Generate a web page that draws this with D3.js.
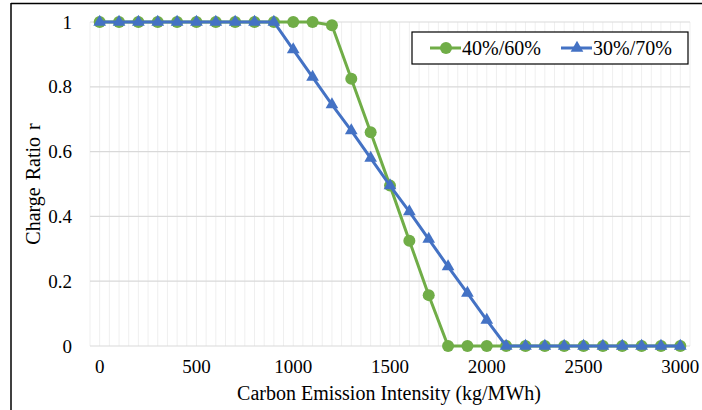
<!DOCTYPE html>
<html>
<head>
<meta charset="utf-8">
<script src="https://cdn.jsdelivr.net/npm/d3@7"></script>
<style>
body { margin: 0; background: #fff; }
text { font-family: "Liberation Serif", "Times New Roman", serif; fill: #000; }
</style>
</head>
<body>
<svg width="702" height="410"></svg>
<script>
var intensity = [0, 100, 200, 300, 400, 500, 600, 700, 800, 900, 1000, 1100, 1200, 1300, 1400, 1500,
  1600, 1700, 1800, 1900, 2000, 2100, 2200, 2300, 2400, 2500, 2600, 2700, 2800, 2900, 3000];
var green = [1, 1, 1, 1, 1, 1, 1, 1, 1, 1, 1, 1, 0.99, 0.825, 0.66, 0.495,
  0.325, 0.157, 0, 0, 0, 0, 0, 0, 0, 0, 0, 0, 0, 0, 0];
var blue = [1, 1, 1, 1, 1, 1, 1, 1, 1, 1, 0.915, 0.83, 0.745, 0.665, 0.58, 0.495,
  0.415, 0.33, 0.245, 0.163, 0.08, 0, 0, 0, 0, 0, 0, 0, 0, 0, 0];
var xTicks = [0, 500, 1000, 1500, 2000, 2500, 3000];
var yTicks = [0, 0.2, 0.4, 0.6, 0.8, 1];
var seriesNames = ["40%/60%", "30%/70%"];

var svg = d3.select("svg");
var plotLeft = 90, plotRight = 690, plotTop = 22, plotBottom = 346;

var x = d3.scalePoint().domain(intensity).range([plotLeft, plotRight]).padding(0.5);
var y = d3.scaleLinear().domain([0, 1]).range([plotBottom, plotTop]);
var step = x.step();

// frame
svg.append("line").attr("x1", 11).attr("x2", 702).attr("y1", 3.5).attr("y2", 3.5)
  .attr("stroke", "#000").attr("stroke-width", 1.5);
svg.append("line").attr("x1", 11).attr("x2", 11).attr("y1", 3).attr("y2", 410)
  .attr("stroke", "#000").attr("stroke-width", 1.5);

// vertical gridlines every half category
var vLines = [];
intensity.forEach(function(d) { vLines.push(x(d) - step / 2); vLines.push(x(d)); });
vLines.push(plotRight);
svg.append("g").selectAll("line").data(vLines).enter().append("line")
  .attr("x1", function(d) { return d; }).attr("x2", function(d) { return d; })
  .attr("y1", plotTop).attr("y2", plotBottom)
  .attr("stroke", "#efefef").attr("stroke-width", 1);

// horizontal gridlines
svg.append("g").selectAll("line").data(yTicks).enter().append("line")
  .attr("x1", plotLeft).attr("x2", plotRight)
  .attr("y1", function(d) { return y(d); }).attr("y2", function(d) { return y(d); })
  .attr("stroke", "#d9d9d9").attr("stroke-width", 1.2);

// y tick labels
svg.append("g").selectAll("text").data(yTicks).enter().append("text")
  .attr("x", 72).attr("y", function(d) { return y(d); })
  .attr("dy", "0.35em").attr("text-anchor", "end")
  .style("font-size", "19px")
  .text(function(d) { return d; });

// x tick labels
svg.append("g").selectAll("text").data(xTicks).enter().append("text")
  .attr("x", function(d) { return x(d); }).attr("y", 366)
  .attr("dy", "0.35em").attr("text-anchor", "middle")
  .style("font-size", "19px")
  .text(function(d) { return d; });

// axis titles
svg.append("text").attr("x", 389).attr("y", 393).attr("dy", "0.35em")
  .attr("text-anchor", "middle").style("font-size", "20px")
  .text("Carbon Emission Intensity (kg/MWh)");
svg.append("text").attr("transform", "translate(33,184) rotate(-90)")
  .attr("dy", "0.35em").attr("text-anchor", "middle").style("font-size", "20px")
  .style("word-spacing", "2px")
  .text("Charge Ratio r");

var line = d3.line().x(function(d, i) { return x(intensity[i]); }).y(function(d) { return y(d); });
var tri = d3.symbol().type(d3.symbolTriangle).size(70);

// green series
svg.append("path").datum(green).attr("d", line)
  .attr("fill", "none").attr("stroke", "#70ad47").attr("stroke-width", 3);
svg.append("g").selectAll("circle").data(green).enter().append("circle")
  .attr("cx", function(d, i) { return x(intensity[i]); })
  .attr("cy", function(d) { return y(d); })
  .attr("r", 6).attr("fill", "#70ad47");

// blue series
svg.append("path").datum(blue).attr("d", line)
  .attr("fill", "none").attr("stroke", "#4472c4").attr("stroke-width", 3);
svg.append("g").selectAll("path").data(blue).enter().append("path")
  .attr("d", tri)
  .attr("transform", function(d, i) { return "translate(" + x(intensity[i]) + "," + y(d) + ")"; })
  .attr("fill", "#4472c4");

// legend
var lg = svg.append("g");
lg.append("rect").attr("x", 412).attr("y", 32).attr("width", 276).attr("height", 32)
  .attr("fill", "#fff").attr("stroke", "#000").attr("stroke-width", 1.2);
lg.append("line").attr("x1", 430).attr("x2", 461).attr("y1", 48).attr("y2", 48)
  .attr("stroke", "#70ad47").attr("stroke-width", 3);
lg.append("circle").attr("cx", 446).attr("cy", 48).attr("r", 6).attr("fill", "#70ad47");
lg.append("text").attr("x", 462).attr("y", 48).attr("dy", "0.35em")
  .style("font-size", "20px").text(seriesNames[0]);
lg.append("line").attr("x1", 561).attr("x2", 592).attr("y1", 48).attr("y2", 48)
  .attr("stroke", "#4472c4").attr("stroke-width", 3);
lg.append("path").attr("d", tri).attr("transform", "translate(577,48)").attr("fill", "#4472c4");
lg.append("text").attr("x", 593).attr("y", 48).attr("dy", "0.35em")
  .style("font-size", "20px").text(seriesNames[1]);
</script>
</body>
</html>
